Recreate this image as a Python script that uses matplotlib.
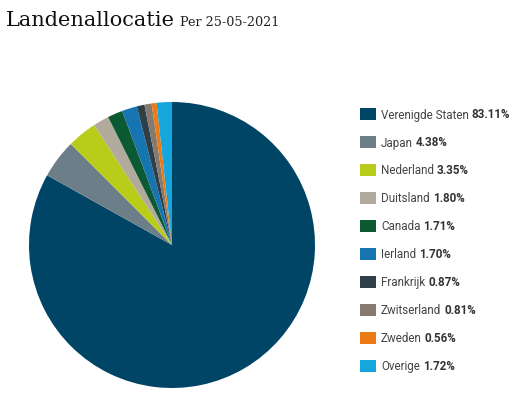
import matplotlib
matplotlib.use("Agg")
import matplotlib.pyplot as plt
from matplotlib.patches import Rectangle

# data
countries = ["Verenigde Staten", "Japan", "Nederland", "Duitsland", "Canada",
             "Ierland", "Frankrijk", "Zwitserland", "Zweden", "Overige"]
weights = [83.11, 4.38, 3.35, 1.80, 1.71, 1.70, 0.87, 0.81, 0.56, 1.72]
colors = ["#004466", "#6c7f88", "#b7cd1a", "#b3aa9e", "#0b5a33",
          "#1675b1", "#2e3f47", "#857a70", "#ec7a17", "#14a6dc"]

W, H = 521, 402
fig = plt.figure(figsize=(W / 100, H / 100), dpi=100)
fig.canvas.draw()
r = fig.canvas.get_renderer()

# title
t = fig.text(6 / W, 1 - 26 / H, "Landenallocatie", fontsize=15, family="DejaVu Serif",
             color="#111111", va="baseline")
bb = t.get_window_extent(renderer=r)
fig.text((bb.x1 + 5) / W, 1 - 26 / H, "Per 25-05-2021", fontsize=9.2,
         family="DejaVu Serif", color="#222222", va="baseline")

# pie
ax = fig.add_axes([29 / W, 13 / H, 286 / W, 286 / H])
ax.pie(weights, colors=colors, startangle=90, counterclock=False,
       wedgeprops=dict(linewidth=0))
ax.set_xlim(-1, 1)
ax.set_ylim(-1, 1)
ax.set_aspect("equal")
ax.axis("off")

# legend, drawn by hand so the percentage can be bold
y0 = 115
for i, (name, w, c) in enumerate(zip(countries, weights, colors)):
    y = y0 + i * 28.0
    fig.add_artist(Rectangle((360 / W, 1 - (y + 6) / H), 16 / W, 12 / H,
                             transform=fig.transFigure, color=c, lw=0))
    t = fig.text(381 / W, 1 - y / H, name, fontsize=8.4, family="Roboto",
                 color="#444444", va="center")
    bb = t.get_window_extent(renderer=r)
    fig.text((bb.x1 + 3) / W, 1 - y / H, "%.2f%%" % w, fontsize=8.4, family="Roboto",
             fontweight="bold", color="#333333", va="center")

fig.savefig("out.png", dpi=100)
